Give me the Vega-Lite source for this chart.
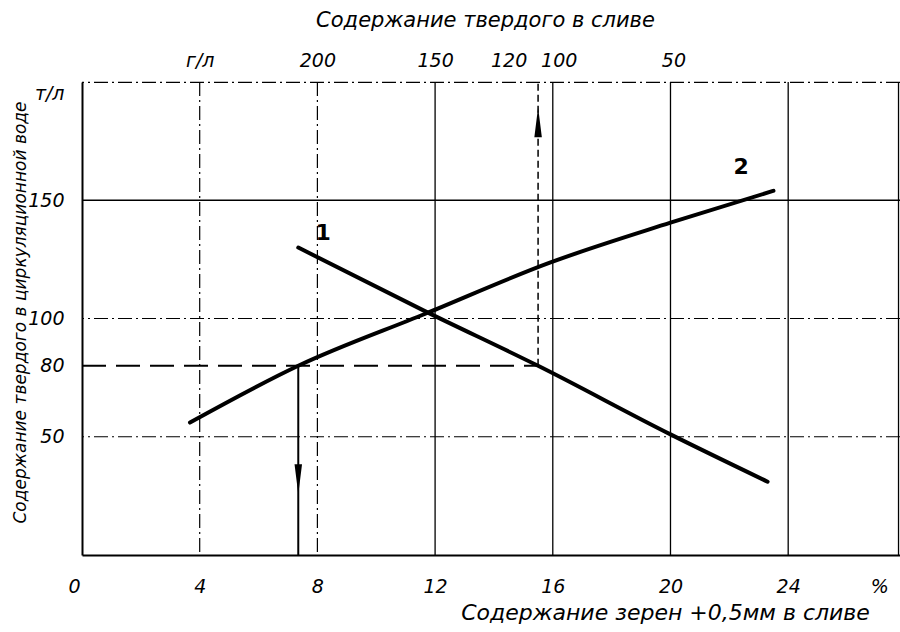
{
  "$schema": "https://vega.github.io/schema/vega-lite/v6.json",
  "width": 818,
  "height": 473,
  "autosize": {"type": "none"},
  "padding": {"left": 82, "top": 82, "right": 0, "bottom": 77},
  "background": "white",
  "config": {
    "view": {"stroke": null},
    "font": "DejaVu Sans",
    "axis": {
      "labelFont": "DejaVu Sans",
      "titleFont": "DejaVu Sans",
      "labelFontStyle": "italic",
      "titleFontStyle": "italic",
      "titleFontWeight": "normal",
      "labelColor": "black",
      "titleColor": "black",
      "grid": false,
      "ticks": false
    }
  },
  "resolve": {"axis": {"x": "independent"}},
  "layer": [
    {
      "data": {"values": [{"x": 12}, {"x": 16}, {"x": 20}, {"x": 24}, {"x": 27.75}]},
      "mark": {"type": "rule", "color": "black", "strokeWidth": 1.3},
      "encoding": {
        "x": {"field": "x", "type": "quantitative", "scale": {"domain": [0, 27.8], "nice": false}, "axis": null}
      }
    },
    {
      "data": {"values": [{"x": 4}, {"x": 8}]},
      "mark": {"type": "rule", "color": "black", "strokeWidth": 1.2, "strokeDash": [14, 4, 2, 4]},
      "encoding": {
        "x": {
          "field": "x", "type": "quantitative", "scale": {"domain": [0, 27.8], "nice": false},
          "axis": {
            "orient": "top",
            "domain": false,
            "values": [4, 8, 12, 14.5, 16.2, 20.1],
            "labelExpr": "datum.value == 4 ? 'г/л' : datum.value == 8 ? '200' : datum.value == 12 ? '150' : datum.value == 14.5 ? '120' : datum.value == 16.2 ? '100' : '50'",
            "labelFontSize": 19,
            "labelPadding": 12,
            "title": "Содержание твердого в сливе",
            "titleFontSize": 21,
            "titleX": 403,
            "titleY": -62,
            "titleBaseline": "middle",
            "titleAlign": "center"
          }
        }
      }
    },
    {
      "data": {"values": [{"y": 150}]},
      "mark": {"type": "rule", "color": "black", "strokeWidth": 1.3},
      "encoding": {
        "y": {"field": "y", "type": "quantitative", "scale": {"domain": [0, 200], "nice": false}}
      }
    },
    {
      "data": {"values": [{"y": 100}, {"y": 50}, {"y": 199.8}]},
      "mark": {"type": "rule", "color": "black", "strokeWidth": 1.2, "strokeDash": [14, 4, 2, 4]},
      "encoding": {
        "y": {"field": "y", "type": "quantitative", "scale": {"domain": [0, 200], "nice": false}}
      }
    },
    {
      "data": {"values": [{"x": 0, "x2": 15.5, "y": 80}]},
      "mark": {"type": "rule", "color": "black", "strokeWidth": 2, "strokeDash": [24, 10]},
      "encoding": {
        "x": {"field": "x", "type": "quantitative", "scale": {"domain": [0, 27.8], "nice": false}, "axis": null},
        "x2": {"field": "x2"},
        "y": {"field": "y", "type": "quantitative", "scale": {"domain": [0, 200], "nice": false}}
      }
    },
    {
      "data": {"values": [{"x": 7.35, "y": 0, "y2": 80}]},
      "mark": {"type": "rule", "color": "black", "strokeWidth": 2},
      "encoding": {
        "x": {"field": "x", "type": "quantitative", "scale": {"domain": [0, 27.8], "nice": false}, "axis": null},
        "y": {"field": "y", "type": "quantitative", "scale": {"domain": [0, 200], "nice": false}},
        "y2": {"field": "y2"}
      }
    },
    {
      "data": {"values": [{"x": 15.5, "y": 80, "y2": 200}]},
      "mark": {"type": "rule", "color": "black", "strokeWidth": 1.5, "strokeDash": [7, 4]},
      "encoding": {
        "x": {"field": "x", "type": "quantitative", "scale": {"domain": [0, 27.8], "nice": false}, "axis": null},
        "y": {"field": "y", "type": "quantitative", "scale": {"domain": [0, 200], "nice": false}},
        "y2": {"field": "y2"}
      }
    },
    {
      "data": {"values": [{"x": 7.35, "y": 32}]},
      "mark": {"type": "point", "shape": "M-0.25,-1L0.25,-1L0,1Z", "size": 900, "filled": true, "color": "black", "opacity": 1},
      "encoding": {
        "x": {"field": "x", "type": "quantitative", "scale": {"domain": [0, 27.8], "nice": false}, "axis": null},
        "y": {"field": "y", "type": "quantitative", "scale": {"domain": [0, 200], "nice": false}}
      }
    },
    {
      "data": {"values": [{"x": 15.5, "y": 183}]},
      "mark": {"type": "point", "shape": "M-0.25,1L0.25,1L0,-1Z", "size": 900, "filled": true, "color": "black", "opacity": 1},
      "encoding": {
        "x": {"field": "x", "type": "quantitative", "scale": {"domain": [0, 27.8], "nice": false}, "axis": null},
        "y": {"field": "y", "type": "quantitative", "scale": {"domain": [0, 200], "nice": false}}
      }
    },
    {
      "data": {"values": [
        {"c": "1", "x": 7.35, "y": 130},
        {"c": "1", "x": 11.67, "y": 103},
        {"c": "1", "x": 15.5, "y": 80},
        {"c": "1", "x": 20, "y": 51},
        {"c": "1", "x": 23.3, "y": 31},
        {"c": "2", "x": 3.67, "y": 56},
        {"c": "2", "x": 7.35, "y": 80},
        {"c": "2", "x": 11.67, "y": 102},
        {"c": "2", "x": 15.9, "y": 123.6},
        {"c": "2", "x": 20, "y": 140.5},
        {"c": "2", "x": 23.5, "y": 154}
      ]},
      "mark": {"type": "line", "color": "black", "strokeWidth": 4, "interpolate": "monotone", "strokeCap": "round"},
      "encoding": {
        "detail": {"field": "c"},
        "x": {
          "field": "x", "type": "quantitative", "scale": {"domain": [0, 27.8], "nice": false},
          "axis": {
            "orient": "bottom",
            "domainColor": "black",
            "domainWidth": 2,
            "values": [0, 4, 8, 12, 16, 20, 24, 27.1],
            "labelExpr": "datum.value == 27.1 ? '%' : datum.label",
            "labelOffset": {"condition": {"test": "datum.value == 0", "value": -14}, "value": 0},
            "labelFontSize": 19,
            "labelPadding": 22,
            "title": "Содержание зерен +0,5мм в сливе",
            "titleFontSize": 22,
            "titleX": 583,
            "titleY": 57,
            "titleBaseline": "middle",
            "titleAlign": "center"
          }
        },
        "y": {
          "field": "y", "type": "quantitative", "scale": {"domain": [0, 200], "nice": false},
          "axis": {
            "domainColor": "black",
            "domainWidth": 2,
            "values": [50, 80, 100, 150, 195],
            "labelExpr": "datum.value == 195 ? 'т/л' : datum.label",
            "labelFontSize": 19,
            "labelPadding": 18,
            "title": "Содержание твердого в циркуляционной воде",
            "titleFontSize": 17,
            "titleX": -62,
            "titleY": 230,
            "titleBaseline": "middle",
            "titleAlign": "center",
            "titleAngle": -90
          }
        }
      }
    },
    {
      "data": {"values": [{"x": 8.2, "y": 131, "t": "1"}, {"x": 22.4, "y": 159, "t": "2"}]},
      "mark": {"type": "text", "fontSize": 22, "fontWeight": "bold", "color": "black", "baseline": "bottom"},
      "encoding": {
        "x": {"field": "x", "type": "quantitative", "scale": {"domain": [0, 27.8], "nice": false}, "axis": null},
        "y": {"field": "y", "type": "quantitative", "scale": {"domain": [0, 200], "nice": false}},
        "text": {"field": "t"}
      }
    }
  ]
}
